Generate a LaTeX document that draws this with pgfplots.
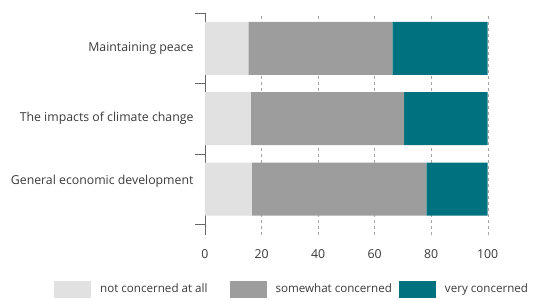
\documentclass[border=0pt]{standalone}
\usepackage{pgfplots}
\pgfplotsset{compat=1.18}
\usepackage{fontspec}
\setmainfont{Open Sans}
\definecolor{lightg}{HTML}{E1E1E1}
\definecolor{midg}{HTML}{9D9D9D}
\definecolor{tealc}{HTML}{00717F}
\definecolor{txt}{HTML}{3A3A3A}
\begin{document}
\begin{tikzpicture}[x=1pt,y=1pt]
\path[use as bounding box] (0,0) rectangle (539,300);
\begin{axis}[
  at={(205pt,65pt)}, anchor=south west,
  scale only axis, width=282.7pt, height=221.7pt,
  xbar stacked, bar width=53pt,
  xmin=0, xmax=100, ymin=-0.654, ymax=2.5,
  axis lines*=left,
  x axis line style={draw=none},
  y axis line style={draw=gray!80!black, line width=0.7pt},
  xtick={0,20,40,60,80,100},
  xmajorgrids,
  grid style={dashed, gray!70, line width=0.4pt},
  ytick={0.114,1,2},
  yticklabels={General economic development, The impacts of climate change, Maintaining peace},
  minor ytick={-0.5,0.5,1.5,2.5},
  major tick length=0pt, minor tick length=10pt, tick align=outside,
  minor tick style={draw=gray!80!black, line width=0.7pt},
  ticklabel style={font=\fontsize{12.3}{14}\selectfont, text=txt},
  /pgf/number format/assume math mode=true,
  xticklabel style={yshift=-11pt},
  yticklabel style={xshift=-8pt},
  legend columns=3,
  legend style={at={(axis description cs:-0.534,-0.2436)}, anchor=west, draw=none, fill=none, inner sep=0pt,
    font=\fontsize{11.6}{14}\selectfont, text=txt,
    /tikz/every odd column/.append style={column sep=7pt},
    /tikz/column 2/.append style={column sep=20pt},
    /tikz/column 4/.append style={column sep=5pt}},
  legend image code/.code={\path[#1,draw=none] (0pt,-8.5pt) rectangle (37pt,8.5pt);},
]
\addplot[fill=lightg, draw=none] coordinates {(16.6,0) (16.2,1) (15.3,2)};
\addplot[fill=midg, draw=none] coordinates {(61.7,0) (54.2,1) (51.0,2)};
\addplot[fill=tealc, draw=none] coordinates {(21.7,0) (29.6,1) (33.7,2)};
\legend{not concerned at all, somewhat concerned, very concerned}
\end{axis}
\end{tikzpicture}
\end{document}
